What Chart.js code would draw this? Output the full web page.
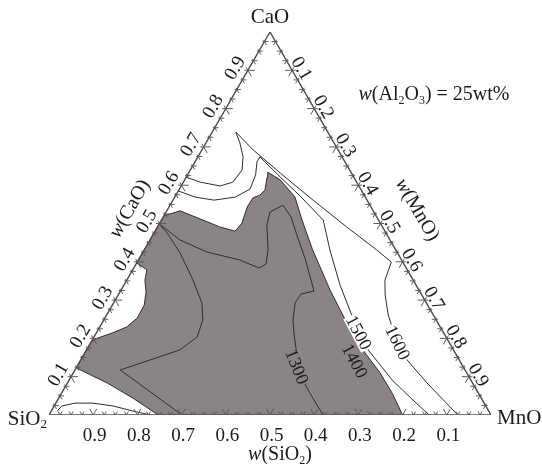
<!DOCTYPE html>
<html><head><meta charset="utf-8">
<script src="https://cdn.jsdelivr.net/npm/chart.js@4.4.0/dist/chart.umd.min.js"></script>
<style>html,body{margin:0;padding:0;background:#fff}</style>
</head><body>
<canvas id="c" width="542" height="464"></canvas>
<script>
// Compositions are stored as [w(SiO2), w(CaO)]; w(MnO) = 1 - w(SiO2) - w(CaO).
const triangleEdge = [[1, 0], [0, 0], [0, 1], [1, 0]];

// liquid region bounded by the 1400 isotherm (shaded)
const region1400 = [
  [0.753, 0], [0.788, 0.044], [0.827, 0.084], [0.877, 0.123],
  [0.809, 0.191], [0.789, 0.201], [0.750, 0.214], [0.709, 0.230], [0.674, 0.253],
  [0.641, 0.287], [0.620, 0.321], [0.607, 0.352], [0.589, 0.379], [0.603, 0.397],
  [0.480, 0.520], [0.437, 0.533], [0.402, 0.512], [0.368, 0.491], [0.339, 0.480],
  [0.313, 0.501], [0.280, 0.543], [0.255, 0.567], [0.236, 0.574], [0.218, 0.587],
  [0.196, 0.621], [0.188, 0.634], [0.170, 0.614], [0.159, 0.569], [0.173, 0.509],
  [0.188, 0.431], [0.201, 0.326], [0.206, 0.240], [0.205, 0.170], [0.196, 0.110],
  [0.195, 0.057], [0.200, 0]
];

const iso1300Left = [
  [0.699, 0], [0.780, 0.1175], [0.700, 0.1436], [0.619, 0.170], [0.563, 0.2037],
  [0.528, 0.248], [0.508, 0.292], [0.498, 0.3525], [0.492, 0.423], [0.495, 0.475], [0.501, 0.499]
];

const iso1300Right = [
  [0.501, 0.499], [0.475, 0.457], [0.430, 0.4256], [0.366, 0.4047], [0.333, 0.3838],
  [0.312, 0.394], [0.289, 0.431], [0.259, 0.496], [0.235, 0.530], [0.1966, 0.548],
  [0.194, 0.517], [0.206, 0.462], [0.216, 0.410], [0.231, 0.3525], [0.2386, 0.3238],
  [0.272, 0.316], [0.297, 0.2924], [0.324, 0.248], [0.341, 0.2089], [0.356, 0.1697],
  [0.373, 0.1175], [0.381, 0.0757], [0.381, 0.0392], [0.380, 0]
];

const iso1500 = [
  [0.415, 0.585], [0.385, 0.569], [0.346, 0.561], [0.294, 0.569], [0.250, 0.590],
  [0.219, 0.627], [0.199, 0.661], [0.186, 0.674], [0.166, 0.621], [0.146, 0.572],
  [0.125, 0.509], [0.149, 0.431], [0.172, 0.339], [0.188, 0.240], [0.193, 0.170],
  [0.178, 0.0914], [0.157, 0.039], [0.140, 0]
];

const iso1600 = [
  [0.379, 0.621], [0.354, 0.608], [0.314, 0.598], [0.280, 0.608], [0.243, 0.640],
  [0.224, 0.674], [0.213, 0.710], [0.208, 0.739], [0.192, 0.692], [0.161, 0.632],
  [0.122, 0.561], [0.081, 0.491], [0.043, 0.431], [0.026, 0.399], [0.064, 0.352],
  [0.083, 0.313], [0.102, 0.261], [0.113, 0.209], [0.118, 0.144], [0.103, 0.0836], [0.075, 0]
];

const isoSiO2Corner = [
  [0.977, 0.010], [0.959, 0.0235], [0.926, 0.031], [0.885, 0.031], [0.843, 0.0235],
  [0.805, 0.0104], [0.771, 0]
];

const tickValues = [0.1, 0.2, 0.3, 0.4, 0.5, 0.6, 0.7, 0.8, 0.9];
const tickStep = 0.025;

// isotherm labels: text, [w(SiO2), w(CaO)], rotation in degrees, backing colour
const isoLabels = [
  ['1300', [0.3785, 0.1253], 68, '#8b8487'],
  ['1400', [0.240, 0.140], 62, null],
  ['1500', [0.194, 0.214], 62, '#ffffff'],
  ['1600', [0.119, 0.188], 64, '#ffffff']
];

const SQ = Math.sqrt(3) / 2;
const toXY = ([s, c]) => ({ x: (1 - s - c) + c / 2, y: c * SQ });
const SERIF = '"Liberation Serif", "Times New Roman", serif';
const SHADE = '#8b8487';
const INK = '#2e2e2e';

function lineSet(pts, color, width, order) {
  return { data: pts.map(toXY), showLine: true, fill: false, borderColor: color,
           borderWidth: width, pointRadius: 0, tension: 0, order: order };
}

// text runs: [text, style] with style '' normal, 'i' italic, 's' subscript
function drawRich(ctx, runs, x, y, deg, size, align, bg) {
  ctx.save();
  ctx.translate(x, y);
  ctx.rotate(deg * Math.PI / 180);
  const fontFor = st => (st === 'i' ? 'italic ' : '') + (st === 's' ? Math.round(size * 0.62) : size) + 'px ' + SERIF;
  let w = 0;
  runs.forEach(([t, st]) => { ctx.font = fontFor(st); w += ctx.measureText(t).width; });
  let cx = align === 'left' ? 0 : align === 'right' ? -w : -w / 2;
  if (bg) {
    ctx.fillStyle = bg;
    ctx.fillRect(cx - 1, -size * 0.36, w + 2, size * 0.72);
  }
  ctx.textBaseline = 'middle';
  ctx.textAlign = 'left';
  ctx.fillStyle = '#1b1b1b';
  runs.forEach(([t, st]) => {
    ctx.font = fontFor(st);
    ctx.fillText(t, cx, st === 's' ? size * 0.28 : 0);
    cx += ctx.measureText(t).width;
  });
  ctx.restore();
}

const ternaryFrame = {
  id: 'ternaryFrame',
  afterDatasetsDraw(chart) {
    const { ctx, scales: { x, y } } = chart;
    const P = (s, c) => { const q = toXY([s, c]); return [x.getPixelForValue(q.x), y.getPixelForValue(q.y)]; };

    // isotherm labels sit on their lines
    isoLabels.forEach(([t, comp, deg, bg]) => {
      const [lx2, ly2] = P(comp[0], comp[1]);
      drawRich(ctx, [[t, '']], lx2, ly2, deg, 18, 'center', bg);
    });

    // edge ticks: inward arms along the other two sides, short outward arms on the slanted sides
    ctx.save();
    ctx.strokeStyle = '#5a5a5a';
    ctx.lineWidth = 1;
    const arms = {
      bottom: [[-0.5, -SQ, 1], [0.5, -SQ, 1]],
      left: [[1, 0, 1], [0.5, SQ, 1], [-1, 0, 0.5], [-0.5, -SQ, 0.5]],
      right: [[-1, 0, 1], [-0.5, SQ, 1], [1, 0, 0.5], [0.5, -SQ, 0.5]]
    };
    const n = Math.round(1 / tickStep);
    for (let k = 1; k < n; k++) {
      const t = k * tickStep;
      const len = k % 4 === 0 ? 7 : 4;
      const pts = { bottom: P(t, 0), left: P(1 - t, t), right: P(0, 1 - t) };
      for (const side of ['bottom', 'left', 'right']) {
        const [px, py] = pts[side];
        for (const [dx, dy, f] of arms[side]) {
          ctx.beginPath();
          ctx.moveTo(px, py);
          ctx.lineTo(px + dx * len * f, py + dy * len * f);
          ctx.stroke();
        }
      }
    }
    ctx.restore();

    tickValues.forEach(v => {
      const lab = v.toFixed(1);
      const [bx, by] = P(v, 0);
      drawRich(ctx, [[lab, '']], bx + 1.5, by + 21, 0, 19);
      const [lx, ly] = P(1 - v, v);
      drawRich(ctx, [[lab, '']], lx - 12.5, ly - 2, -60, 19);
      const [rx, ry] = P(0, 1 - v);
      drawRich(ctx, [[lab, '']], rx + 9, ry - 1.5, 60, 19);
    });

    let [ax, ay] = P(0.5, 0);
    drawRich(ctx, [['w', 'i'], ['(SiO', ''], ['2', 's'], [')', '']], ax + 10, ay + 40, 0, 20);
    [ax, ay] = P(0.48, 0.52);
    drawRich(ctx, [['w', 'i'], ['(CaO)', '']], ax - 34, ay - 7, -60, 20);
    [ax, ay] = P(0, 0.52);
    drawRich(ctx, [['w', 'i'], ['(MnO)', '']], ax + 41, ay - 6, 60, 20);

    [ax, ay] = P(0, 1);
    drawRich(ctx, [['CaO', '']], ax, ay - 15, 0, 21);
    [ax, ay] = P(1, 0);
    drawRich(ctx, [['SiO', ''], ['2', 's']], ax - 2, ay + 4, 0, 21, 'right');
    [ax, ay] = P(0, 0);
    drawRich(ctx, [['MnO', '']], ax + 6, ay + 3, 0, 21, 'left');

    drawRich(ctx, [['w', 'i'], ['(Al', ''], ['2', 's'], ['O', ''], ['3', 's'], [') = 25wt%', '']], 434, 95, 0, 20);
  }
};

new Chart(document.getElementById('c'), {
  type: 'scatter',
  data: {
    datasets: [
      Object.assign(lineSet(region1400, INK, 1, 10), { fill: 'shape', backgroundColor: SHADE }),
      lineSet(iso1300Left, INK, 1, 1),
      lineSet(iso1300Right, INK, 1, 1),
      lineSet(iso1500, INK, 1, 1),
      lineSet(iso1600, INK, 1, 1),
      lineSet(isoSiO2Corner, INK, 1, 1),
      lineSet(triangleEdge, '#4a4a4a', 1.4, 0)
    ]
  },
  options: {
    responsive: false,
    animation: false,
    layout: { padding: { left: 49, right: 51, top: 32, bottom: 49 } },
    plugins: { legend: { display: false }, tooltip: { enabled: false } },
    scales: {
      x: { type: 'linear', min: 0, max: 1, display: false },
      y: { type: 'linear', min: 0, max: SQ, display: false }
    }
  },
  plugins: [ternaryFrame]
});
</script>
</body></html>
